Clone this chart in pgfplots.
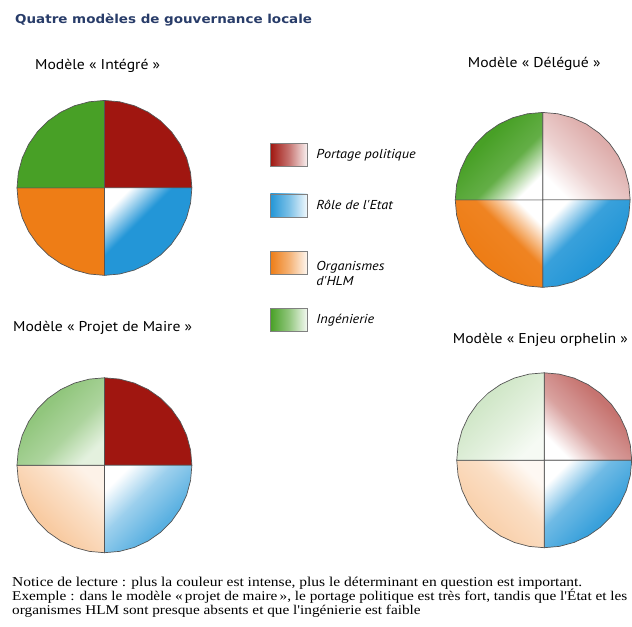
\documentclass[border=0pt]{standalone}
\usepackage{pgfplots}
\pgfplotsset{compat=1.18}
\usepackage{pgfplotstable}
\usepgfplotslibrary{polar}
\usepackage{fontspec}
\setmainfont{PT Sans}
\newfontfamily\headfont[FakeStretch=1.1]{PT Sans}
\newfontfamily\titlefont[FakeStretch=1.1]{DejaVu Sans}
\newfontfamily\notefont[FakeStretch=1.145]{Liberation Serif}

\definecolor{cRed}{RGB}{160,22,16}
\definecolor{cBlue}{RGB}{35,150,215}
\definecolor{cOrange}{RGB}{238,125,22}
\definecolor{cGreen}{RGB}{72,160,38}
\definecolor{cTitle}{RGB}{40,60,105}
\definecolor{cEdge}{RGB}{85,85,85}

% colour from the centre of the pie to its rim
\colorlet{secIn}{white}\colorlet{secMid}{gray}\colorlet{secOut}{black}
\pgfdeclareverticalshading[secIn,secMid,secOut]{sector}{100bp}{%
  color(0bp)=(secIn); color(25bp)=(secIn); color(42bp)=(secMid);
  color(62bp)=(secOut); color(100bp)=(secOut)}

% quarter outlines: angle (deg), radius
\pgfplotstableread{
a r
0 0
0 1
10 1
20 1
30 1
40 1
50 1
60 1
70 1
80 1
90 1
90 0
}\qNE
\pgfplotstableread{
a r
90 0
90 1
100 1
110 1
120 1
130 1
140 1
150 1
160 1
170 1
180 1
180 0
}\qNW
\pgfplotstableread{
a r
180 0
180 1
190 1
200 1
210 1
220 1
230 1
240 1
250 1
260 1
270 1
270 0
}\qSW
\pgfplotstableread{
a r
270 0
270 1
280 1
290 1
300 1
310 1
320 1
330 1
340 1
350 1
360 1
360 0
}\qSE

% \sector{outline}{colour}{intensity at centre}{middle}{rim}{shading angle}
\newcommand\sector[6]{%
  \addplot[forget plot, draw=cEdge, line width=0.7bp,
    /utils/exec={\colorlet{secIn}{#2!#3!white}\colorlet{secMid}{#2!#4!white}\colorlet{secOut}{#2!#5!white}},
    shading=sector, shading angle=#6]
    table[x=a, y=r] {#1} -- cycle;}

% one pie: intensities (centre, middle, rim) for red, blue, orange, green
\newcommand\pie[4]{%
  \sector{\qNE}{cRed}#1{-45}
  \sector{\qSE}{cBlue}#2{-135}
  \sector{\qSW}{cOrange}#3{135}
  \sector{\qNW}{cGreen}#4{45}}

\pgfplotsset{pie/.style={hide axis, scale only axis, width=175bp, height=175bp,
  ymin=0, ymax=1, anchor=center, clip=false},
  swatch/.style={legend image code/.code={%
    \shade[draw=gray, left color=#1, right color=#1!6!white, middle color=#1!60!white]
    (0bp,-11.5bp) rectangle (37bp,11.5bp);}}}

\begin{document}
\begin{tikzpicture}
\path (0bp,0bp) rectangle (632bp,-627bp);

\node[anchor=base west, inner sep=0pt, font=\titlefont\bfseries\fontsize{12.3}{14}\selectfont, text=cTitle]
  at (15bp,-23.3bp) {Quatre modèles de gouvernance locale};

\node[anchor=base west, inner sep=0pt, font=\headfont\fontsize{14.3}{16}\selectfont] at (35bp,-69.3bp) {Modèle « Intégré »};
\node[anchor=base west, inner sep=0pt, font=\headfont\fontsize{14.3}{16}\selectfont] at (468bp,-67.3bp) {Modèle « Délégué »};
\node[anchor=base west, inner sep=0pt, font=\headfont\fontsize{14.3}{16}\selectfont] at (13bp,-331.7bp) {Modèle « Projet de Maire »};
\node[anchor=base west, inner sep=0pt, font=\headfont\fontsize{14.3}{16}\selectfont] at (453bp,-343.3bp) {Modèle « Enjeu orphelin »};

% Modele Integre, with the legend
\begin{polaraxis}[pie, at={(104.5bp,-188bp)},
  legend style={draw=none, fill=none, at={(axis description cs:1.446,0.757)}, anchor=north west,
    inner sep=0pt, row sep=27bp, font=\headfont\itshape\fontsize{13}{15}\selectfont,
    cells={anchor=west}, /tikz/every odd column/.append style={column sep=7bp}}]
  \pie{{100}{100}{100}}{{0}{100}{100}}{{100}{100}{100}}{{100}{100}{100}}
  \addlegendimage{swatch=cRed}
  \addlegendimage{swatch=cBlue}
  \addlegendimage{swatch=cOrange}
  \addlegendimage{swatch=cGreen}
  \legend{Portage politique, Rôle de l'Etat,
    {\begin{tabular}{@{}l@{}}\rule{0pt}{24.5bp}Organismes\\d'HLM\rule[-18.5bp]{0pt}{18.5bp}\end{tabular}}, Ingénierie}
\end{polaraxis}

% Modele Delegue
\begin{polaraxis}[pie, at={(543bp,-200bp)}]
  \pie{{0}{20}{35}}{{0}{90}{100}}{{0}{95}{100}}{{0}{85}{100}}
\end{polaraxis}

% Modele Projet de Maire
\begin{polaraxis}[pie, at={(104.5bp,-465.5bp)}]
  \pie{{100}{100}{100}}{{0}{45}{75}}{{10}{25}{40}}{{15}{45}{60}}
\end{polaraxis}

% Modele Enjeu orphelin
\begin{polaraxis}[pie, at={(544.5bp,-460.5bp)}]
  \pie{{0}{40}{60}}{{0}{65}{90}}{{5}{25}{35}}{{5}{15}{25}}
\end{polaraxis}

\node[anchor=base west, inner sep=0pt, font=\notefont\fontsize{13.6}{10.5}\selectfont] at (12bp,-587bp)
  {Notice de lecture : plus la couleur est intense, plus le déterminant en question est important.};
\node[anchor=base west, inner sep=0pt, font=\notefont\fontsize{13.4}{10.5}\selectfont] at (12bp,-601bp)
  {Exemple : dans le modèle «\,projet de maire\,», le portage politique est très fort, tandis que l'État et les};
\node[anchor=base west, inner sep=0pt, font=\notefont\fontsize{13.4}{10.5}\selectfont] at (12bp,-615bp)
  {organismes HLM sont presque absents et que l'ingénierie est faible};
\end{tikzpicture}
\end{document}
